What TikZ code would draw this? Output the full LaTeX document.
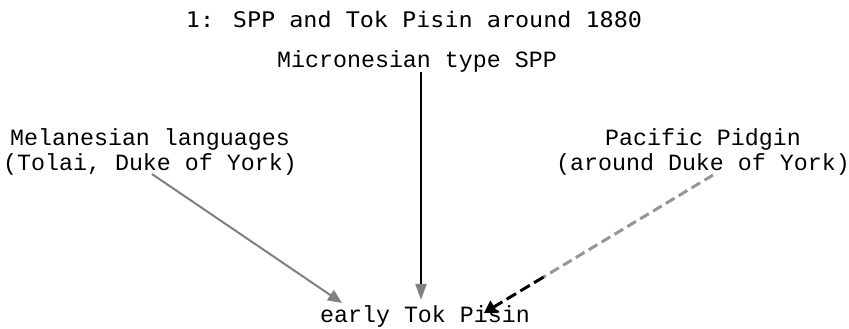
\documentclass[tikz,border=0pt]{standalone}
\usepackage{fontspec}
\setmonofont{Liberation Mono}
\newfontfamily\titlefont{DejaVu Sans Mono}
\usetikzlibrary{arrows.meta,calc}
\definecolor{arrgrey}{RGB}{128,128,128}
\definecolor{dashgrey}{RGB}{150,150,150}
\begin{document}
\begin{tikzpicture}[x=1pt,y=-1pt,
  lbl/.style={font=\ttfamily\fontsize{23.3}{25}\selectfont, inner sep=2pt, align=center, anchor=base},
  ttl/.style={font=\titlefont\fontsize{21.5}{24}\selectfont, inner sep=2pt, anchor=base},
  greyarrow/.style={draw=arrgrey, line width=2pt, -{Triangle[length=14pt,width=12pt]}},
  vertarrow/.style={draw=black, line width=2pt, -{Triangle[length=16pt,width=11pt,color=arrgrey]}},
  dashpart/.style={draw=dashgrey, line width=3pt, dash pattern=on 10pt off 5pt},
  dashend/.style={draw=black, line width=3pt, dash pattern=on 11pt off 5pt, -{Triangle[length=12pt,width=14pt]}}
]
\useasboundingbox (0,0) rectangle (849,329);
\fill[white] (0,0) rectangle (849,329);

\node[ttl] (title) at (414,28) {\scalebox{1.09}[1]{1: SPP and Tok Pisin around 1880}};
\node[lbl] (mic) at (417,68) {Micronesian type SPP};
\node[lbl] (mel) at (150,170) {Melanesian languages\\(Tolai, Duke of York)};
\node[lbl] (pp) at (703,170) {Pacific Pidgin\\(around Duke of York)};
\node[lbl] (etp) at (425,322) {early Tok Pisin};

% vertical arrow
\draw[vertarrow] ([xshift=4pt,yshift=3pt]mic.south) -- ([xshift=-4pt,yshift=3pt]etp.north);
% left arrow
\draw[greyarrow] ([shift={(2pt,3pt)}]mel.south) -- ([shift={(24pt,0pt)}]etp.north west);
% right dashed arrow
\coordinate (ppstart) at ([shift={(10pt,2pt)}]pp.south);
\coordinate (pptip) at ([shift={(166pt,-10pt)}]etp.north west);
\coordinate (ppmid) at ($(ppstart)!0.74!(pptip)$);
\draw[dashpart] (ppstart) -- (ppmid);
\draw[dashend] (ppmid) -- (pptip);
\end{tikzpicture}
\end{document}
